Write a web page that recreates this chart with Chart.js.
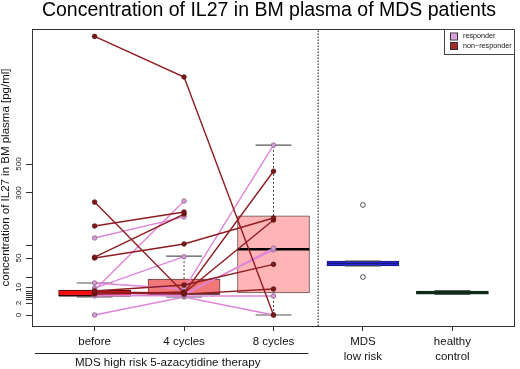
<!DOCTYPE html>
<html><head><meta charset="utf-8">
<script src="https://cdn.jsdelivr.net/npm/chart.js@4.4.1/dist/chart.umd.min.js"></script>
<style>html,body{margin:0;padding:0;background:#fff}</style>
</head><body>
<canvas id="c" width="520" height="369" style="width:520px;height:369px;display:block"></canvas>
<script>
// ---------- data (concentrations in pg/ml) ----------
const categories = [["before"], ["4 cycles"], ["8 cycles"], ["MDS", "low risk"], ["healthy", "control"]];
// patient trajectories: before, 4 cycles, 8 cycles (null = no sample)
const nonResponders = [
  [1380, 1100, 0],
  [265, 7.2, 450],
  [173, 227, null],
  [53, 219, null],
  [50, 104, 204],
  [7.7, 7.2, 196],
  [8.2, 12.4, 40],
  [7.2, 6.6, 9.2],
  [6.6, 7.7, null]
];
const responders = [
  [127, 208, null],
  [8.7, 269, null],
  [9.7, 55, null],
  [14.3, 9.2, 630],
  [5.6, 6.1, 88],
  [6.1, 5.6, 5.6],
  [0, 5.1, 0],
  [7.2, 6.6, 81]
];
// box statistics per group
const boxLow  = [5.1, 5.1, 0, 37.4, 6.4];
const boxQ1   = [5.6, 6.6, 7.2, 37.4, 6.6];
const boxMed  = [5.7, 6.7, 84, 41.3, 7.4];
const boxQ3   = [8.7, 18, 212, 45.3, 8.2];
const boxHigh = [14.3, 57, 630, 45.3, 8.4];
const outlierGroup = [4, 4];
const outlierValues = [254, 20];
// y axis ticks
const yTickValues = [0, 2, 4, 5, 6, 7, 8, 10, 20, 50, 100, 300, 500];
const yTickLabels = ["0", "2", "", "", "", "", "", "10", "", "50", "", "300", "500"];
// axis transform anchors (value -> axis unit)
const axisVals = [0, 2, 10, 20, 50, 100, 300, 500];
const axisUnits = [0, 12, 27.5, 38, 57, 70, 122, 151];

function T(v) {
  if (v === null || v === undefined) return null;
  const n = axisVals.length;
  if (v >= axisVals[n - 1]) {
    const s = (axisUnits[n - 1] - axisUnits[n - 2]) / (axisVals[n - 1] - axisVals[n - 2]);
    return axisUnits[n - 1] + (v - axisVals[n - 1]) * s;
  }
  for (let i = 0; i < n - 1; i++) {
    if (v <= axisVals[i + 1]) {
      return axisUnits[i] + (v - axisVals[i]) / (axisVals[i + 1] - axisVals[i]) * (axisUnits[i + 1] - axisUnits[i]);
    }
  }
}

const FONT = '"Liberation Sans", Arial, Helvetica, sans-serif';
const NR_COL = '#8E1C22', NR_PT = '#7A1A1A', R_COL = '#DE84D8', R_PT = '#D79CD6';
const boxFill = ['#F41010', '#F27878', '#FFB5B5', '#1F22E0', '#1E5230'];
const boxEdge = ['#3A1010', '#6A4040', '#6A4A4A', '#1A1A70', '#0E2A16'];
const medColor = ['#2A0A0A', '#4A2020', '#000', '#1A1A70', '#0B2412'];
const medWidth = [1.5, 1.5, 2.5, 1, 2];

const datasets = [];
// boxes
datasets.push({
  type: 'bar', order: 20, grouped: false, barThickness: 72,
  data: boxQ1.map((q, i) => ({ x: i + 1, y: [T(q), T(boxQ3[i])] })),
  backgroundColor: boxFill, borderColor: boxEdge, borderWidth: 1, borderSkipped: false
});
// whiskers (dashed)
const whisk = [];
boxQ1.forEach((q, i) => {
  whisk.push({ x: i + 1, y: T(boxQ3[i]) }, { x: i + 1, y: T(boxHigh[i]) }, { x: i + 1.5, y: null });
  whisk.push({ x: i + 1, y: T(q) }, { x: i + 1, y: T(boxLow[i]) }, { x: i + 1.5, y: null });
});
datasets.push({ type: 'line', order: 19, data: whisk, borderColor: '#444', borderWidth: 1, borderDash: [2, 2], pointRadius: 0, spanGaps: false });
// caps
const caps = [];
boxQ1.forEach((q, i) => {
  caps.push({ x: i + 0.8, y: T(boxHigh[i]) }, { x: i + 1.2, y: T(boxHigh[i]) }, { x: i + 1.5, y: null });
  caps.push({ x: i + 0.8, y: T(boxLow[i]) }, { x: i + 1.2, y: T(boxLow[i]) }, { x: i + 1.5, y: null });
});
datasets.push({ type: 'line', order: 18, data: caps, borderColor: '#555', borderWidth: 1.2, pointRadius: 0, spanGaps: false });
// medians (one dataset per group)
boxMed.forEach((m, i) => {
  datasets.push({ type: 'line', order: 17, data: [{ x: i + 0.6, y: T(m) }, { x: i + 1.4, y: T(m) }],
    borderColor: medColor[i], borderWidth: medWidth[i], pointRadius: 0 });
});
// outliers
datasets.push({ type: 'line', order: 16, showLine: false, data: outlierValues.map((v, i) => ({ x: outlierGroup[i], y: T(v) })),
  pointRadius: 2.4, pointBackgroundColor: '#fff', pointBorderColor: '#555', pointBorderWidth: 1 });
// separator
datasets.push({ type: 'line', order: 15, data: [{ x: 3.5, y: -11 }, { x: 3.5, y: 286 }], borderColor: '#333', borderWidth: 1.2, borderDash: [1.5, 1.5], pointRadius: 0 });
// patients
function patientSet(vals, line, pt, edge) {
  return { type: 'line', order: 1, data: vals.map((v, i) => ({ x: i + 1, y: T(v) })), borderColor: line, borderWidth: 1.4,
    pointRadius: 2.3, pointBackgroundColor: pt, pointBorderColor: edge, pointBorderWidth: 0.8, spanGaps: false, tension: 0 };
}
nonResponders.forEach(p => datasets.push(patientSet(p, NR_COL, NR_PT, '#5A1010')));
responders.forEach(p => datasets.push(patientSet(p, R_COL, R_PT, '#8A6A8A')));

const decor = {
  id: 'decor',
  afterDraw(chart) {
    const ctx = chart.ctx, a = chart.chartArea, xs = chart.scales.x;
    ctx.save();
    // frame
    ctx.strokeStyle = '#333'; ctx.lineWidth = 1;
    ctx.strokeRect(a.left + 0.5, a.top + 0.5, a.right - a.left - 1, a.bottom - a.top);
    // title
    ctx.fillStyle = '#000'; ctx.font = '19.5px ' + FONT; ctx.textAlign = 'center'; ctx.textBaseline = 'middle';
    ctx.fillText('Concentration of IL27 in BM plasma of MDS patients', 269, 11);
    // group bracket
    const x0 = xs.getPixelForValue(0.333), x1 = xs.getPixelForValue(3.39);
    ctx.strokeStyle = '#222'; ctx.lineWidth = 1.2;
    ctx.beginPath(); ctx.moveTo(x0, 353.5); ctx.lineTo(x1, 353.5); ctx.stroke();
    ctx.font = '11.6px ' + FONT; ctx.fillStyle = '#111';
    ctx.fillText('MDS high risk 5-azacytidine therapy', (x0 + x1) / 2 - 4, 362.5);
    // legend
    const lx = 444, ly = a.top, lw = a.right - lx, lh = 25;
    ctx.fillStyle = '#fff'; ctx.fillRect(lx, ly, lw, lh);
    ctx.strokeStyle = '#444'; ctx.lineWidth = 1; ctx.strokeRect(lx + 0.5, ly + 0.5, lw - 1, lh);
    const items = [['responder', '#DFA0DE'], ['non\u2212responder', '#A32A2A']];
    ctx.font = '7.2px ' + FONT; ctx.textAlign = 'left';
    items.forEach((it, k) => {
      const cy = ly + 7.5 + k * 9.5;
      ctx.fillStyle = it[1]; ctx.fillRect(451, cy - 3, 6, 6);
      ctx.strokeStyle = '#333'; ctx.strokeRect(450.5, cy - 3.5, 7, 7);
      ctx.fillStyle = '#111'; ctx.fillText(it[0], 463, cy);
    });
    ctx.restore();
  }
};

new Chart(document.getElementById('c'), {
  type: 'line',
  data: { datasets },
  options: {
    responsive: false, animation: false, devicePixelRatio: 1,
    layout: { padding: { top: 29, right: 2, left: 0, bottom: 0 } },
    plugins: { legend: { display: false }, tooltip: { enabled: false } },
    scales: {
      x: {
        type: 'linear', min: 0.3, max: 5.7, offset: false,
        afterBuildTicks: s => { s.ticks = categories.map((c, i) => ({ value: i + 1 })); },
        afterFit: s => { s.height = 43; },
        ticks: { autoSkip: false, minRotation: 0, maxRotation: 0, padding: 4, color: '#111',
          font: { size: 11.5, family: FONT, lineHeight: 1.25 }, callback: (v, i) => categories[i] },
        grid: { display: true, offset: false, drawOnChartArea: false, drawTicks: true, tickLength: 5, color: '#333' },
        border: { display: false }
      },
      y: {
        type: 'linear', min: -11, max: 286,
        afterBuildTicks: s => { s.ticks = yTickValues.map(v => ({ value: T(v) })); },
        afterFit: s => { s.width = 32; },
        ticks: { autoSkip: false, minRotation: 90, maxRotation: 90, crossAlign: 'center', padding: 1, color: '#222',
          font: { size: 8, family: FONT }, callback: (v, i) => yTickLabels[i] },
        grid: { display: true, drawOnChartArea: false, drawTicks: true, tickLength: 6, color: '#333' },
        border: { display: false },
        title: { display: true, text: 'concentration of IL27 in BM plasma [pg/ml]', color: '#111',
          font: { size: 11.5, family: FONT, lineHeight: 1.1 }, padding: 0 }
      }
    }
  },
  plugins: [decor]
});
</script>
</body></html>
